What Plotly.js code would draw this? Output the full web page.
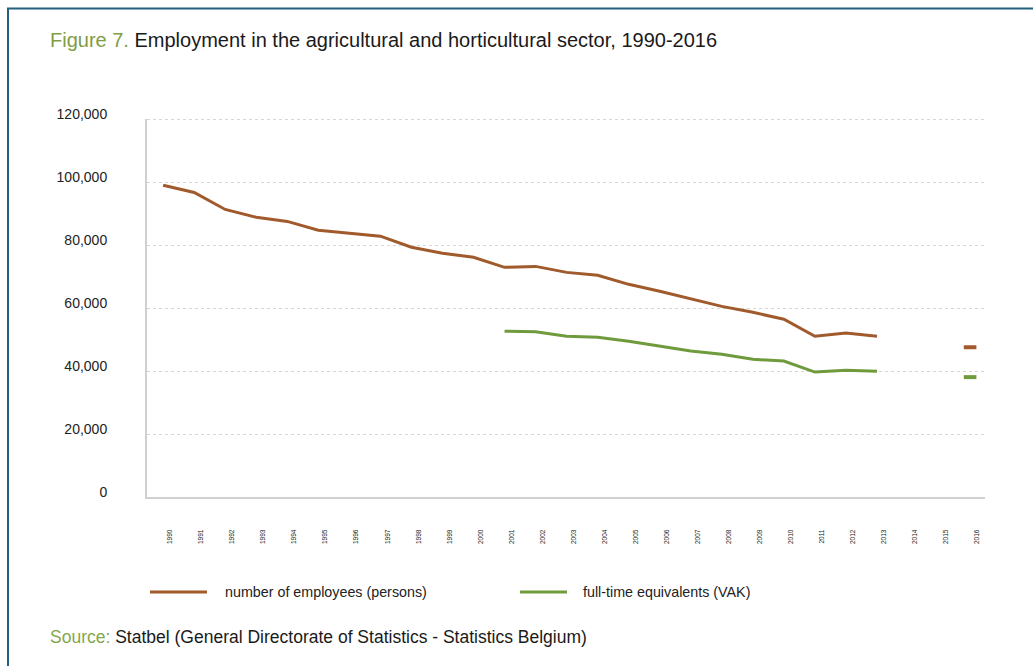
<!DOCTYPE html>
<html>
<head>
<meta charset="utf-8">
<script src="https://cdn.plot.ly/plotly-3.0.1.min.js"></script>
<style>html,body{margin:0;padding:0;background:#fff;}#chart{width:1033px;height:666px;}</style>
</head>
<body>
<div id="chart"></div>
<script>
var years = [1990,1991,1992,1993,1994,1995,1996,1997,1998,1999,2000,2001,2002,2003,2004,2005,2006,2007,2008,2009,2010,2011,2012,2013,2014,2015,2016];
var yearLabels = years.map(String);
var employees = [99100,96800,91400,88900,87600,84800,83800,82900,79400,77500,76200,73000,73300,71400,70500,67600,65400,62900,60600,58700,56500,51100,52100,51100,null,null,47600];
var fte = [null,null,null,null,null,null,null,null,null,null,null,52700,52500,51100,50800,49500,47900,46400,45400,43800,43200,39700,40300,40000,null,null,38100];
var yTicks = [0,20000,40000,60000,80000,100000,120000];
var yTickLabels = ['0','20,000','40,000','60,000','80,000','100,000','120,000'];
var seriesNames = ['number of employees (persons)','full-time equivalents (VAK)'];
var titleLead = 'Figure 7.';
var titleText = ' Employment in the agricultural and horticultural sector, 1990-2016';
var sourceLead = 'Source:';
var sourceText = ' Statbel (General Directorate of Statistics - Statistics Belgium)';

var BROWN = '#a05a2c', GREEN = '#6f9b3c';

function isolatedSizes(arr){
  return arr.map(function(v,i){
    if(v===null) return 0;
    var prev = i>0 ? arr[i-1] : null, next = i<arr.length-1 ? arr[i+1] : null;
    return (prev===null && next===null) ? 9 : 0;
  });
}

function mk(vals, name, color){
  return {
    x: years, y: vals, name: name, type: 'scatter', mode: 'lines+markers',
    connectgaps: false, showlegend: false, hoverinfo: 'skip',
    line: {color: color, width: 3},
    marker: {symbol: 'line-ew', size: isolatedSizes(vals), color: color, opacity: 1, line: {color: color, width: 4}}
  };
}

var data = [mk(employees, seriesNames[0], BROWN), mk(fte, seriesNames[1], GREEN)];

// geometry helpers (plot area: x 147..985, y 119..497)
var L=147, R=48, T=119, B=169, W=1033-L-R, H=666-T-B;
function px(x){return (x-L)/W;}
function py(y){return (666-B-y)/H;}

var FONT = 'Liberation Sans, Arial, sans-serif';
var GRID = '#d6d6d6';

var layout = {
  width: 1033, height: 666,
  margin: {l: L, r: R, t: T, b: B, pad: 0},
  paper_bgcolor: '#fff', plot_bgcolor: '#fff',
  font: {family: FONT, color: '#222'},
  xaxis: {
    range: [1989.48, 2016.48], tickmode: 'array', tickvals: years, ticktext: yearLabels,
    tickangle: -90, tickfont: {size: 6.5, color: '#222'}, ticks: '',
    ticklabelshift: 7, ticklabelstandoff: 28,
    showgrid: false, zeroline: false, showline: true, linecolor: '#d0d0d0', linewidth: 2,
    fixedrange: true
  },
  yaxis: {
    range: [0, 120150], tickvals: yTicks, ticktext: yTickLabels,
    tickfont: {size: 14, color: '#222'}, ticks: '', ticklabelstandoff: 35, ticklabelshift: -5,
    showgrid: true, gridcolor: GRID, griddash: 'dot', gridwidth: 1,
    zeroline: false, showline: true, linecolor: '#d0d0d0', linewidth: 2,
    fixedrange: true
  },
  shapes: [
    {type: 'rect', xref: 'paper', yref: 'paper', x0: px(8), x1: px(1045), y0: py(8.5), y1: py(690),
     line: {color: '#22607e', width: 2}, fillcolor: 'rgba(0,0,0,0)', layer: 'below'},
    {type: 'line', xref: 'paper', yref: 'y', x0: 0, x1: 1, y0: yTicks[yTicks.length-1], y1: yTicks[yTicks.length-1],
     line: {color: GRID, width: 1, dash: 'dot'}, layer: 'below'},
    {type: 'line', xref: 'paper', yref: 'paper', x0: px(150), x1: px(207), y0: py(592), y1: py(592), line: {color: BROWN, width: 3}},
    {type: 'line', xref: 'paper', yref: 'paper', x0: px(520), x1: px(567), y0: py(592), y1: py(592), line: {color: GREEN, width: 3}}
  ],
  annotations: [
    {xref: 'paper', yref: 'paper', x: px(48), y: py(40), xanchor: 'left', yanchor: 'middle', showarrow: false,
     text: '<span style="color:#7f9d45">' + titleLead + '</span>' + titleText, font: {size: 20, color: '#1a1a1a', family: FONT}},
    {xref: 'paper', yref: 'paper', x: px(223), y: py(592), xanchor: 'left', yanchor: 'middle', showarrow: false,
     text: seriesNames[0], font: {size: 14.3, color: '#222', family: FONT}},
    {xref: 'paper', yref: 'paper', x: px(581), y: py(592), xanchor: 'left', yanchor: 'middle', showarrow: false,
     text: seriesNames[1], font: {size: 14.3, color: '#222', family: FONT}},
    {xref: 'paper', yref: 'paper', x: px(48), y: py(637), xanchor: 'left', yanchor: 'middle', showarrow: false,
     text: '<span style="color:#86a64d">' + sourceLead + '</span>' + sourceText, font: {size: 17.5, color: '#1a1a1a', family: FONT}}
  ]
};

Plotly.newPlot('chart', data, layout, {displayModeBar: false, staticPlot: true});
</script>
</body>
</html>
